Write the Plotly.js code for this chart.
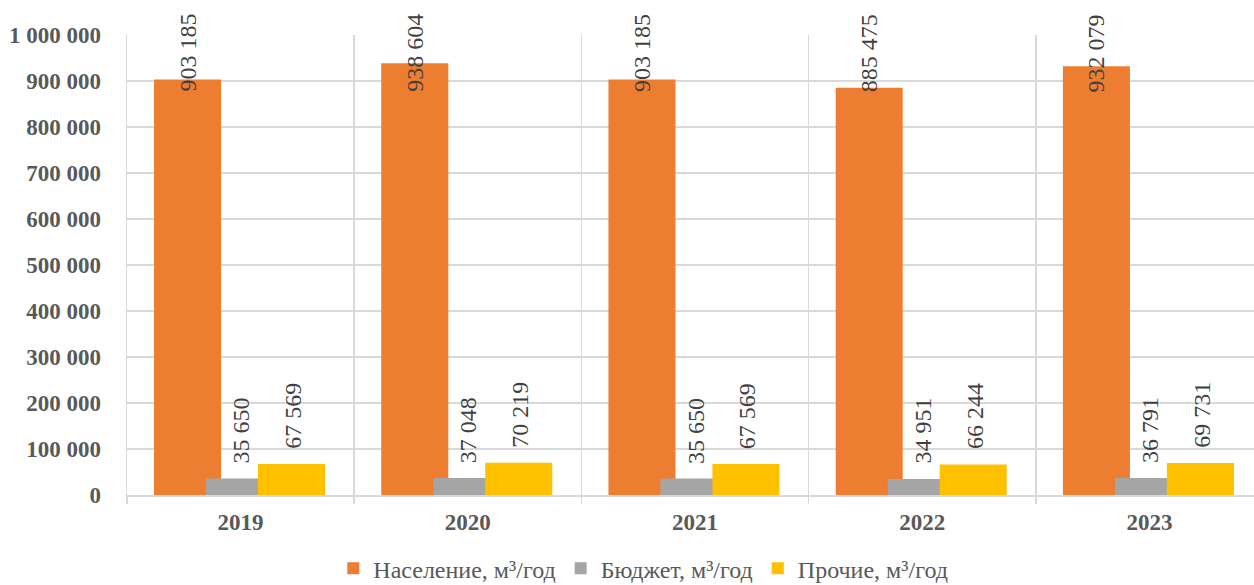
<!DOCTYPE html>
<html><head><meta charset="utf-8">
<script src="https://cdn.plot.ly/plotly-3.0.1.min.js"></script>
<style>html,body{margin:0;padding:0;background:#fff}</style>
</head><body><div id="chart" style="width:1254px;height:585px"></div>
<script>
const years = ['2019', '2020', '2021', '2022', '2023'];
const naselenie = [903185, 938604, 903185, 885475, 932079];
const budget = [35650, 37048, 35650, 34951, 36791];
const prochie = [67569, 70219, 67569, 66244, 69731];
const seriesNames = ['Население, м³/год', 'Бюджет, м³/год', 'Прочие, м³/год'];
const seriesColors = ['#ED7D31', '#A5A5A5', '#FFC000'];
const yTickVals = [0, 100000, 200000, 300000, 400000, 500000, 600000, 700000, 800000, 900000, 1000000];

function fmt(v) { return String(v).replace(/\B(?=(\d{3})+(?!\d))/g, ' '); }

const serif = 'Liberation Serif';
const barW = 0.295;
const offsets = [-0.381, -0.152, 0.0766];
const allSeries = [naselenie, budget, prochie];

const traces = allSeries.map((vals, k) => ({
  type: 'bar',
  x: years,
  y: vals,
  name: seriesNames[k],
  width: barW,
  offset: offsets[k],
  marker: { color: seriesColors[k], line: { width: 0 } },
  hoverinfo: 'skip'
}));

const annotations = [];
allSeries.forEach((vals, k) => {
  vals.forEach((v, i) => {
    const cx = i + offsets[k] + barW / 2 + (k === 0 ? 0 : 0.006);
    const a = {
      x: cx, xref: 'x',
      text: fmt(v),
      textangle: -90,
      showarrow: false,
      font: { family: serif, size: 24, color: '#404040' },
      xanchor: 'center', yanchor: 'bottom', borderpad: 0
    };
    if (k === 0) { a.yref = 'paper'; a.y = 0.874; }
    else { a.yref = 'y'; a.y = v; a.yshift = 14; }
    annotations.push(a);
  });
});

const layout = {
  width: 1254, height: 585,
  margin: { l: 127, r: 0, t: 35, b: 90 },
  paper_bgcolor: '#fff', plot_bgcolor: '#fff',
  font: { family: serif },
  barmode: 'overlay',
  showlegend: true,
  legend: {
    orientation: 'h', xref: 'container', yref: 'container',
    x: 0.513, xanchor: 'center', y: 0.028, yanchor: 'middle',
    font: { family: serif, size: 24, color: '#595959' },
    itemwidth: 30, traceorder: 'normal'
  },
  xaxis: {
    type: 'category', range: [-0.5, 4.46],
    tickson: 'boundaries', ticks: 'outside', ticklen: 7, tickcolor: '#D9D9D9', tickwidth: 1.5,
    showgrid: true, gridcolor: '#D9D9D9', gridwidth: 1.5,
    showline: true, linecolor: '#D9D9D9', linewidth: 1.5,
    tickfont: { family: serif, size: 23, color: '#595959', weight: 'bold' },
    ticklabelstandoff: 6
  },
  yaxis: {
    range: [0, 1000000], tickvals: yTickVals, ticktext: yTickVals.map(fmt),
    showgrid: true, gridcolor: '#D9D9D9', gridwidth: 1.5,
    zeroline: false, showline: true, linecolor: '#D9D9D9', linewidth: 1.5, ticks: '',
    tickfont: { family: serif, size: 23, color: '#595959', weight: 'bold' },
    ticklabelstandoff: 20
  },
  annotations: annotations
};

Plotly.newPlot('chart', traces, layout, { staticPlot: true, displayModeBar: false });
</script></body></html>
